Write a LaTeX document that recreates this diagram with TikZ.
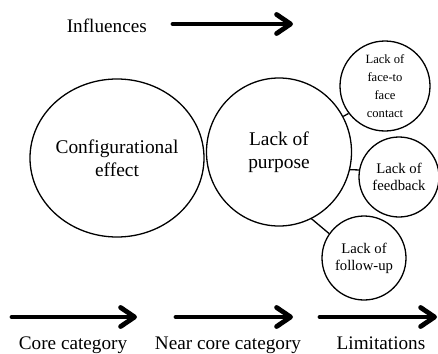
\documentclass[tikz,border=0pt]{standalone}
\usepackage{fontspec}
\setmainfont{Liberation Serif}
\usetikzlibrary{positioning,shapes.geometric,arrows.meta}
\tikzset{
  bubble/.style={draw=black, line width=1.3pt, inner sep=0pt, align=center},
  big bubble/.style={bubble, ellipse, font=\fontsize{19.4}{22.6}\selectfont},
  small bubble/.style={bubble, circle, font=\fontsize{14.7}{17}\selectfont},
  tiny bubble/.style={bubble, circle, font=\fontsize{12.6}{18}\selectfont},
  link/.style={line width=1.3pt},
  flow arrow/.style={line width=4.8pt, line cap=round, -{Straight Barb[length=14pt,width=19pt,round]}},
  legend label/.style={inner sep=0pt, font=\fontsize{19.2}{22}\selectfont},
}

\begin{document}
\begin{tikzpicture}[x=1pt,y=-1pt]
\useasboundingbox (0,0) rectangle (438,353);
% the bubbles
\node [big bubble, minimum width=174pt, minimum height=158pt] (config) at (117,158) {Configurational\\effect};
\node [big bubble, minimum width=145pt, minimum height=148pt] (purpose) at (279,152) {Lack of\\purpose};
\node [tiny bubble, minimum size=90pt] (face) at (385,86) {Lack of\\face-to\\face\\contact};
\node [small bubble, minimum size=80pt] (feedback) at (399,177) {Lack of\\feedback};
\node [small bubble, minimum size=84pt] (followup) at (364,258) {Lack of\\follow-up};
%links between bubbles
\draw [link] (purpose.29) -- (face.217);
\draw [link] (purpose.-14) -- (feedback.170);
\draw [link] (purpose.-64) -- (followup.145);

% the legend arrows
\coordinate (inflA) at (173,24);
\coordinate (inflB) at (293,24);
\coordinate (coreA) at (12,317);
\coordinate (coreB) at (137,317);
\coordinate (nearA) at (176,317);
\coordinate (nearB) at (293,317);
\coordinate (limA) at (320,317);
\coordinate (limB) at (437,317);
\draw [flow arrow] (inflA) -- (inflB);
\draw [flow arrow] (coreA) -- (coreB);
\draw [flow arrow] (nearA) -- (nearB);
\draw [flow arrow] (limA) -- (limB);
\node [legend label, left=26pt of inflA, yshift=-2pt] (infl) {Influences};
\node [legend label, anchor=base] (core) at (73,349) {Core category};
\node [legend label, anchor=base] (near) at (228,349) {Near core category};
\node [legend label, anchor=base] (lim) at (381,349) {Limitations};
\end{tikzpicture}
\end{document}
